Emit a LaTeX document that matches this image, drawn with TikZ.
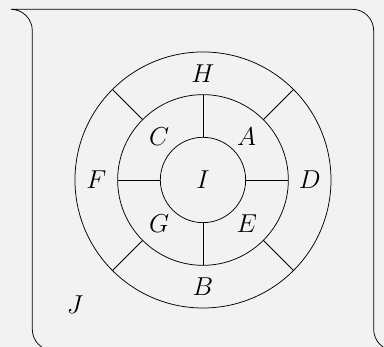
\documentclass[tikz,border=0pt]{standalone}
\usepackage{amsmath,amssymb}
\usepackage{xcolor}
\usepackage{tikz}
\usetikzlibrary{calc, positioning, backgrounds}
\definecolor{paper}{RGB}{242, 242, 242}

\begin{document}
\begin{tikzpicture}[
    ringline/.style={black, line width=0.5pt},
    region/.style={font=\LARGE, inner sep=0pt}
  ]

% Page and background
\useasboundingbox (-4.757, -3.914) rectangle (4.242, 4.218);
\fill[paper] (-4.757, -3.914) rectangle (4.242, 4.218);

% Frame
\draw[ringline] (-4.5, 4) -- (3.5, 4) arc[start angle=90, end angle=0, radius=0.5]
      -- (4, -3.5) arc[start angle=180, end angle=270, radius=0.5]
      -- (-3.5, -4) arc[start angle=270, end angle=180, radius=0.5]
      -- (-4, 3.5) arc[start angle=0, end angle=90, radius=0.5];

% Rings
\foreach \r in {1, 2, 3}
  \draw[ringline] (0, 0) circle[radius=\r];

% Spokes of the middle ring
\foreach \a in {0, 90, 180, 270}
  \draw[ringline] (\a:1) -- (\a:2);
% Spokes of the outer ring
\foreach \a in {45, 135, 225, 315}
  \draw[ringline] (\a:2) -- (\a:3);

% Labels
\node[region] (I) at (0, 0) {$I$};
\node[region] (A) at (45:1.45) {$A$};
\node[region] (C) at (135:1.45) {$C$};
\node[region] (G) at (225:1.45) {$G$};
\node[region] (E) at (315:1.45) {$E$};
\node[region] (H) at (90:2.5) {$H$};
\node[region] (D) at (0:2.5) {$D$};
\node[region] (B) at (270:2.5) {$B$};
\node[region] (F) at (180:2.5) {$F$};
\node[region] (J) at (-3, -2.93) {$J$};

\end{tikzpicture}
\end{document}
